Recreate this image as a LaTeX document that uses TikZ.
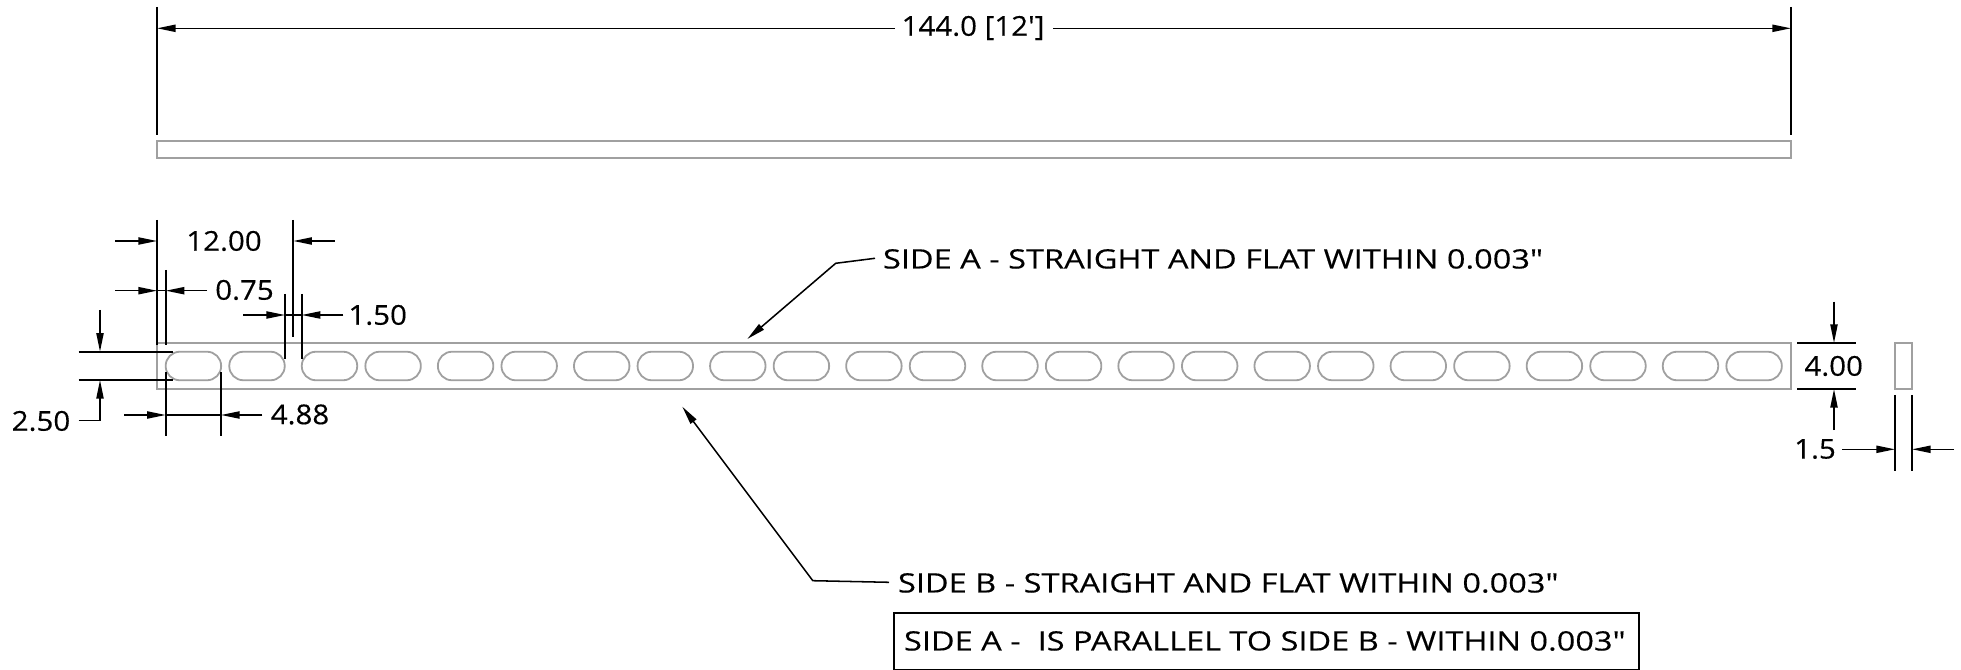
\documentclass[tikz,border=0pt]{standalone}
\usepackage{fontspec}
\newfontfamily\dimfont[FakeStretch=1.08,FakeBold=0.3]{Open Sans}
\newfontfamily\notefont[FakeStretch=1.22,FakeBold=0.3]{Open Sans}
\usetikzlibrary{arrows.meta}
\tikzset{
  x=0.75pt,y=-0.75pt,
  part/.style={draw=partgray,line width=1.35pt},
  slot/.style={part,minimum width=41.6pt,minimum height=21.4pt,rounded corners=10.6pt,inner sep=0pt,outer sep=0pt},
  ext/.style={draw=black,line width=1.3pt},
  dim/.style={draw=black,line width=1.15pt},
  lead/.style={dim,-{Triangle[length=14pt,width=5.4pt]}},
  lbl/.style={inner sep=0pt,outer sep=0pt,font=\dimfont\fontsize{20.5}{24}\selectfont},
  note/.style={inner sep=0pt,outer sep=0pt,anchor=west,font=\notefont\fontsize{20}{24}\selectfont},
}
\definecolor{partgray}{HTML}{A0A0A0}
\begin{document}
\begin{tikzpicture}
\useasboundingbox (0,0) rectangle (1961,670);
% parts
\draw[part] (157,141) rectangle (1791,158);
\draw[part] (157,343) rectangle (1791,389);
\draw[part] (1895,343) rectangle (1912,389);
\foreach \i in {0,...,11}{
  \node[slot] (sa\i) at ({193.4+136.1*\i},366) {};
  \node[slot] (sb\i) at ({257.0+136.1*\i},366) {};
}
% ===== overall length
\coordinate (oa1) at (157,7);   \coordinate (oa2) at (157,135);
\coordinate (ob1) at (1791,7);  \coordinate (ob2) at (1791,135);
\coordinate (oaT) at (157,28.3);\coordinate (obT) at (1791,28.3);
\coordinate (oaS) at (895,28.3);\coordinate (obS) at (1053,28.3);
\node[lbl] (ol) at (973,28) {144.0 [12']};
\draw[ext] (oa1) -- (oa2);
\draw[ext] (ob1) -- (ob2);
\draw[lead] (oaS) -- (oaT);
\draw[lead] (obS) -- (obT);
% ===== 12.00
\coordinate (pa1) at (157,220);   \coordinate (pa2) at (157,345);
\coordinate (pb1) at (293.3,220); \coordinate (pb2) at (293.3,337);
\coordinate (paS) at (115.3,241); \coordinate (paT) at (157,241);
\coordinate (pbS) at (334.7,241); \coordinate (pbT) at (293.3,241);
\node[lbl] (pl) at (224,241) {12.00};
\draw[ext] (pa1) -- (pa2);
\draw[ext] (pb1) -- (pb2);
\draw[lead] (paS) -- (paT);
\draw[lead] (pbS) -- (pbT);
% ===== 0.75
\coordinate (ea1) at (165.7,270); \coordinate (ea2) at (165.7,345);
\coordinate (eaS) at (115.3,290.7); \coordinate (eaT) at (157,290.7);
\coordinate (ebS) at (207,290.7); \coordinate (ebT) at (165.7,290.7);
\node[lbl] (el) at (244.5,290) {0.75};
\draw[ext] (ea1) -- (ea2);
\draw[lead] (eaS) -- (eaT);
\draw[lead] (ebS) -- (ebT);
\draw[dim] (eaT) -- (ebT);
% ===== 1.50
\coordinate (ga1) at (285,294);   \coordinate (ga2) at (285,359.5);
\coordinate (gb1) at (301.7,294); \coordinate (gb2) at (301.7,359.5);
\coordinate (gaS) at (243,315);   \coordinate (gaT) at (285,315);
\coordinate (gbS) at (343.3,315); \coordinate (gbT) at (301.7,315);
\node[lbl] (gl) at (377.7,315) {1.50};
\draw[ext] (ga1) -- (ga2);
\draw[ext] (gb1) -- (gb2);
\draw[lead] (gaS) -- (gaT);
\draw[lead] (gbS) -- (gbT);
\draw[dim] (gaT) -- (gbT);
% ===== 2.50
\coordinate (ha1) at (78.7,351.7); \coordinate (ha2) at (173.3,351.7);
\coordinate (hb1) at (78.7,380);   \coordinate (hb2) at (173.3,380);
\coordinate (haS) at (100,310);    \coordinate (haT) at (100,351.7);
\coordinate (hbK) at (100,420.7);  \coordinate (hbT) at (100,380);
\coordinate (hbS) at (78.7,420.7);
\node[lbl] (hl) at (41,421) {2.50};
\draw[ext] (ha1) -- (ha2);
\draw[ext] (hb1) -- (hb2);
\draw[lead] (haS) -- (haT);
\draw[lead] (hbS) -- (hbK) -- (hbT);
% ===== 4.88
\coordinate (wa1) at (165.7,372.3); \coordinate (wa2) at (165.7,435.7);
\coordinate (wb1) at (221,372.3);   \coordinate (wb2) at (221,435.7);
\coordinate (waS) at (124,415);     \coordinate (waT) at (165.7,415);
\coordinate (wbS) at (262.3,415);   \coordinate (wbT) at (221,415);
\node[lbl] (wl) at (300,414.5) {4.88};
\draw[ext] (wa1) -- (wa2);
\draw[ext] (wb1) -- (wb2);
\draw[lead] (waS) -- (waT);
\draw[lead] (wbS) -- (wbT);
\draw[dim] (waT) -- (wbT);
% ===== 4.00
\coordinate (ta1) at (1797.3,343); \coordinate (ta2) at (1855.7,343);
\coordinate (tb1) at (1797.3,389); \coordinate (tb2) at (1855.7,389);
\coordinate (taS) at (1834,301.7); \coordinate (taT) at (1834,343);
\coordinate (tbS) at (1834,430);   \coordinate (tbT) at (1834,389);
\node[lbl] (tl) at (1833.7,366) {4.00};
\draw[ext] (ta1) -- (ta2);
\draw[ext] (tb1) -- (tb2);
\draw[lead] (taS) -- (taT);
\draw[lead] (tbS) -- (tbT);
% ===== 1.5
\coordinate (sa1x) at (1895,395); \coordinate (sa2x) at (1895,470.7);
\coordinate (sb1x) at (1912,395); \coordinate (sb2x) at (1912,470.7);
\coordinate (ssS) at (1842.3,449.3); \coordinate (ssT) at (1895,449.3);
\coordinate (stS) at (1954,449.3);   \coordinate (stT) at (1912,449.3);
\node[lbl] (sl) at (1815,449) {1.5};
\draw[ext] (sa1x) -- (sa2x);
\draw[ext] (sb1x) -- (sb2x);
\draw[lead] (ssS) -- (ssT);
\draw[lead] (stS) -- (stT);
% ===== notes
\coordinate (naK) at (835.7,263.3); \coordinate (naT) at (747.3,339);
\coordinate (naS) at (875,258.3);
\node[note] (na) at (883,259) {SIDE A - STRAIGHT AND FLAT WITHIN 0.003"};
\draw[lead] (naS) -- (naK) -- (naT);
\coordinate (nbK) at (812.8,580.7); \coordinate (nbT) at (682.3,406.7);
\coordinate (nbS) at (889,582.3);
\node[note] (nb) at (898,583) {SIDE B - STRAIGHT AND FLAT WITHIN 0.003"};
\draw[lead] (nbS) -- (nbK) -- (nbT);
\coordinate (bxa) at (894,612.7); \coordinate (bxb) at (1639,669.4);
\draw[ext] (bxa) rectangle (bxb);
\node[note] (nc) at (904,641) {SIDE A -\ \ IS PARALLEL TO SIDE B - WITHIN 0.003"};
\end{tikzpicture}
\end{document}
